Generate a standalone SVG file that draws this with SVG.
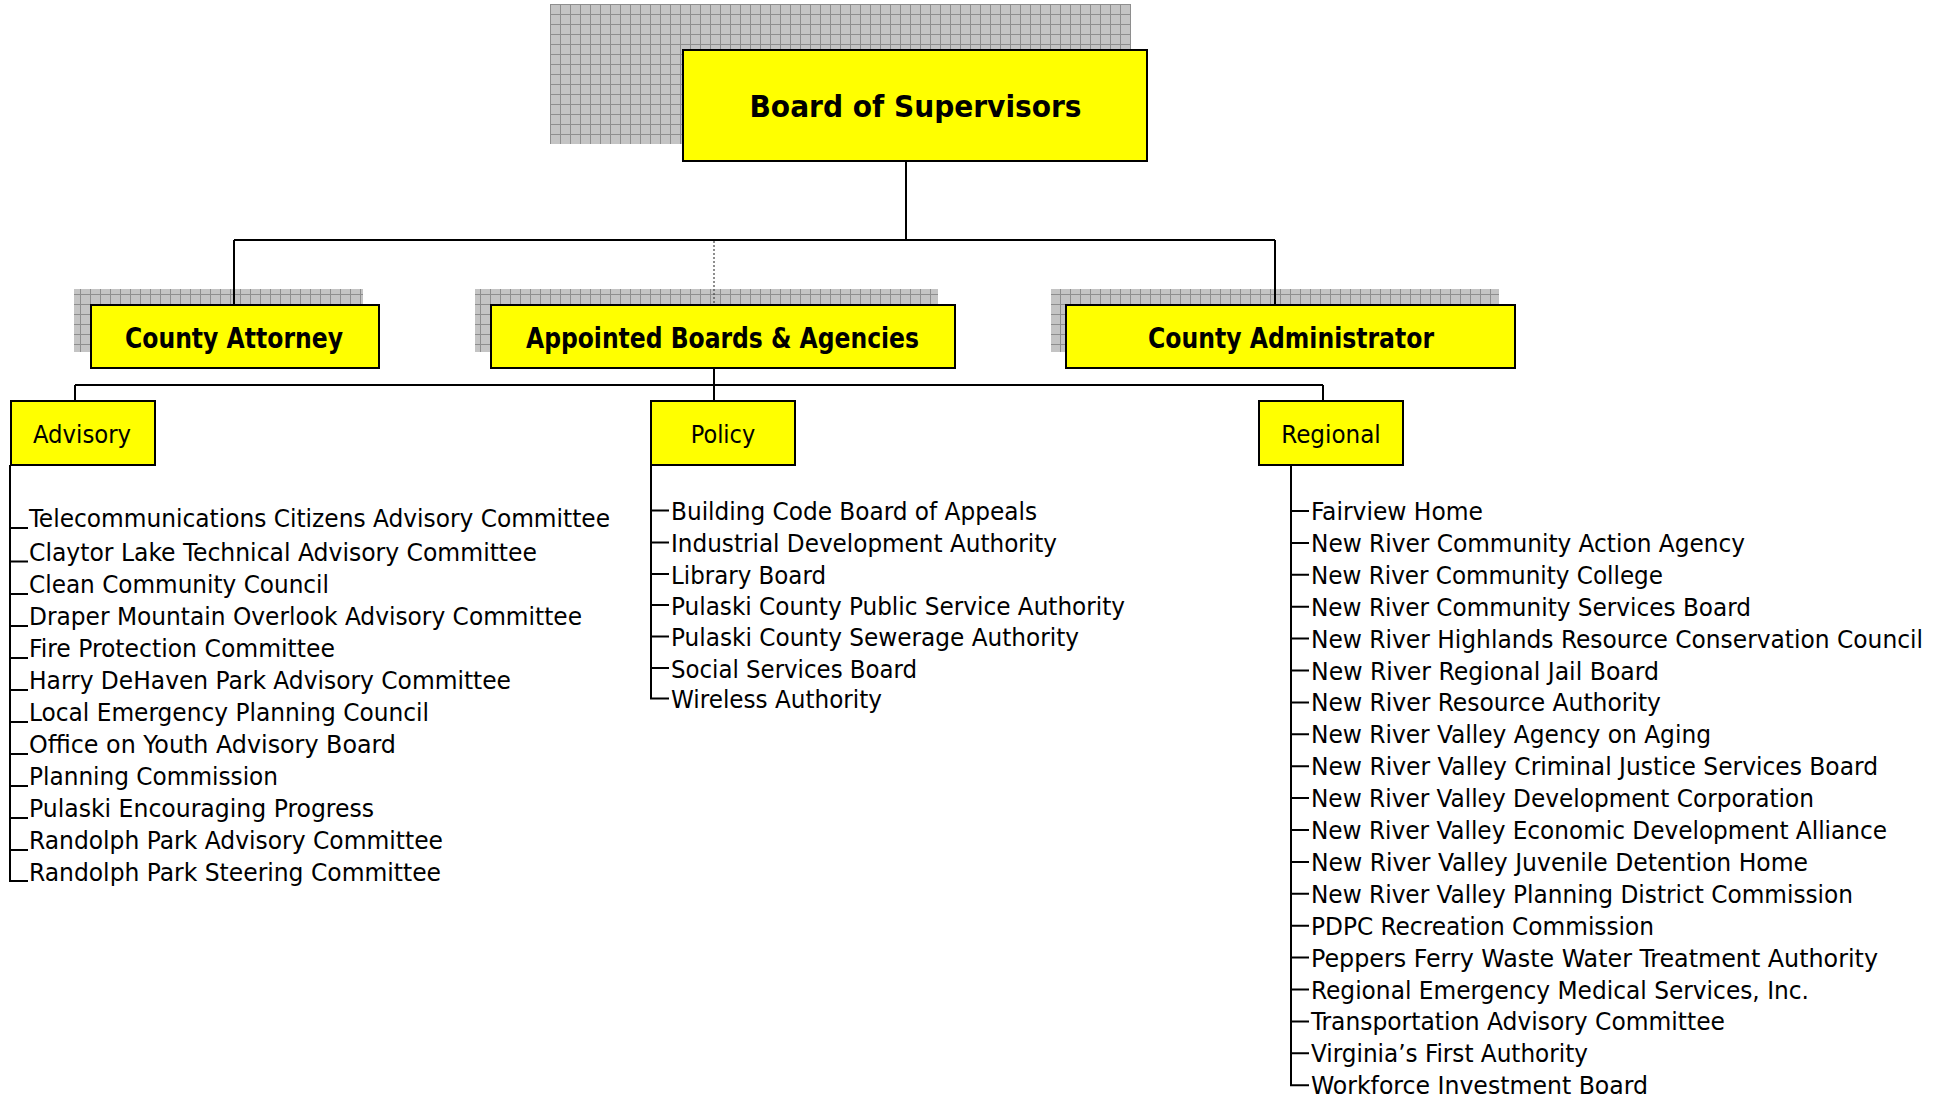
<svg xmlns="http://www.w3.org/2000/svg" width="1944" height="1101" viewBox="0 0 1944 1101">
<style>
.box{fill:#ffff00;stroke:#000;stroke-width:2}
.shadow{fill:url(#grid)}
.ln{stroke:#000;stroke-width:2;fill:none}
.dot{stroke:#444;stroke-width:1.2;stroke-dasharray:2 2;fill:none}
.t{font-family:'DejaVu Sans Condensed','DejaVu Sans',sans-serif;font-size:25px;fill:#000}
.h{font-family:'DejaVu Sans Condensed','DejaVu Sans',sans-serif;font-weight:bold;font-size:28px;fill:#000;text-anchor:middle}
.ti{font-size:31px}
.c{text-anchor:middle}
</style>
<defs>
<pattern id="grid" x="0" y="4" width="10" height="10" patternUnits="userSpaceOnUse">
<rect width="10" height="10" fill="#c4c4c4"/>
<path d="M0 0.5H10M0.5 0V10" stroke="#8e8e8e" stroke-width="1"/>
</pattern>
</defs>
<g id="shadows">
<rect class="shadow" x="550" y="4" width="581" height="140"/>
<rect class="shadow" x="74" y="289" width="289" height="63"/>
<rect class="shadow" x="475" y="289" width="463" height="63"/>
<rect class="shadow" x="1051" y="289" width="448" height="63"/>
</g>
<g id="connectors">
<path class="ln" d="M906 161V240M234 240H1275M234 240V305M1275 240V305"/>
<path class="dot" d="M714 241V305"/>
<path class="ln" d="M714 368V401M75 385H1323M75 385V401M1323 385V401"/>
<path class="ln" d="M10 465V881H28M10 528H28M10 561.5H28M10 594H28M10 626H28M10 658H28M10 690H28M10 722H28M10 754H28M10 786H28M10 818H28M10 850H28"/>
<path class="ln" d="M651 465V698.5H669M651 510.5H669M651 542.5H669M651 574H669M651 605H669M651 636.5H669M651 668H669"/>
<path class="ln" d="M1291 465V1085.2H1309M1291 511H1309M1291 542.9H1309M1291 574.8H1309M1291 606.7H1309M1291 638.6H1309M1291 670.5H1309M1291 702.4H1309M1291 734.3H1309M1291 766.2H1309M1291 798.1H1309M1291 830H1309M1291 861.9H1309M1291 893.8H1309M1291 925.7H1309M1291 957.6H1309M1291 989.5H1309M1291 1021.4H1309M1291 1053.3H1309"/>
</g>
<g id="board">
<rect class="box" x="683" y="50" width="464" height="111"/>
<text class="h ti" x="915.5" y="117" textLength="332" lengthAdjust="spacingAndGlyphs">Board of Supervisors</text>
</g>
<g id="county-attorney">
<rect class="box" x="91" y="305" width="288" height="63"/>
<text class="h" x="234" y="348" textLength="218" lengthAdjust="spacingAndGlyphs">County Attorney</text>
</g>
<g id="appointed">
<rect class="box" x="491" y="305" width="464" height="63"/>
<text class="h" x="722.5" y="348" textLength="393" lengthAdjust="spacingAndGlyphs">Appointed Boards &amp; Agencies</text>
</g>
<g id="county-administrator">
<rect class="box" x="1066" y="305" width="449" height="63"/>
<text class="h" x="1291" y="348" textLength="286" lengthAdjust="spacingAndGlyphs">County Administrator</text>
</g>
<g id="advisory">
<rect class="box" x="11" y="401" width="144" height="64"/>
<text class="t c" x="82" y="443" textLength="98" lengthAdjust="spacingAndGlyphs">Advisory</text>
</g>
<g id="policy">
<rect class="box" x="651" y="401" width="144" height="64"/>
<text class="t c" x="723" y="443" textLength="64.5" lengthAdjust="spacingAndGlyphs">Policy</text>
</g>
<g id="regional">
<rect class="box" x="1259" y="401" width="144" height="64"/>
<text class="t c" x="1331" y="443" textLength="99.5" lengthAdjust="spacingAndGlyphs">Regional</text>
</g>
<g id="advisory-list" class="t">
<text x="29" y="527" textLength="581" lengthAdjust="spacingAndGlyphs">Telecommunications Citizens Advisory Committee</text>
<text x="29" y="560.5" textLength="508" lengthAdjust="spacingAndGlyphs">Claytor Lake Technical Advisory Committee</text>
<text x="29" y="593" textLength="300" lengthAdjust="spacingAndGlyphs">Clean Community Council</text>
<text x="29" y="625" textLength="553" lengthAdjust="spacingAndGlyphs">Draper Mountain Overlook Advisory Committee</text>
<text x="29" y="657" textLength="306" lengthAdjust="spacingAndGlyphs">Fire Protection Committee</text>
<text x="29" y="689" textLength="482" lengthAdjust="spacingAndGlyphs">Harry DeHaven Park Advisory Committee</text>
<text x="29" y="721" textLength="400" lengthAdjust="spacingAndGlyphs">Local Emergency Planning Council</text>
<text x="29" y="753" textLength="367" lengthAdjust="spacingAndGlyphs">Office on Youth Advisory Board</text>
<text x="29" y="785" textLength="249" lengthAdjust="spacingAndGlyphs">Planning Commission</text>
<text x="29" y="817" textLength="345" lengthAdjust="spacingAndGlyphs">Pulaski Encouraging Progress</text>
<text x="29" y="849" textLength="414" lengthAdjust="spacingAndGlyphs">Randolph Park Advisory Committee</text>
<text x="29" y="881" textLength="412" lengthAdjust="spacingAndGlyphs">Randolph Park Steering Committee</text>
</g>
<g id="policy-list" class="t">
<text x="671" y="520" textLength="366" lengthAdjust="spacingAndGlyphs">Building Code Board of Appeals</text>
<text x="671" y="552" textLength="386" lengthAdjust="spacingAndGlyphs">Industrial Development Authority</text>
<text x="671" y="583.5" textLength="155" lengthAdjust="spacingAndGlyphs">Library Board</text>
<text x="671" y="614.5" textLength="454" lengthAdjust="spacingAndGlyphs">Pulaski County Public Service Authority</text>
<text x="671" y="646" textLength="408" lengthAdjust="spacingAndGlyphs">Pulaski County Sewerage Authority</text>
<text x="671" y="677.5" textLength="246" lengthAdjust="spacingAndGlyphs">Social Services Board</text>
<text x="671" y="708" textLength="211" lengthAdjust="spacingAndGlyphs">Wireless Authority</text>
</g>
<g id="regional-list" class="t">
<text x="1311" y="520" textLength="172" lengthAdjust="spacingAndGlyphs">Fairview Home</text>
<text x="1311" y="551.9" textLength="434" lengthAdjust="spacingAndGlyphs">New River Community Action Agency</text>
<text x="1311" y="583.8" textLength="352" lengthAdjust="spacingAndGlyphs">New River Community College</text>
<text x="1311" y="615.7" textLength="440" lengthAdjust="spacingAndGlyphs">New River Community Services Board</text>
<text x="1311" y="647.6" textLength="612" lengthAdjust="spacingAndGlyphs">New River Highlands Resource Conservation Council</text>
<text x="1311" y="679.5" textLength="348" lengthAdjust="spacingAndGlyphs">New River Regional Jail Board</text>
<text x="1311" y="711.4" textLength="350" lengthAdjust="spacingAndGlyphs">New River Resource Authority</text>
<text x="1311" y="743.3" textLength="400" lengthAdjust="spacingAndGlyphs">New River Valley Agency on Aging</text>
<text x="1311" y="775.2" textLength="567" lengthAdjust="spacingAndGlyphs">New River Valley Criminal Justice Services Board</text>
<text x="1311" y="807.1" textLength="503" lengthAdjust="spacingAndGlyphs">New River Valley Development Corporation</text>
<text x="1311" y="839" textLength="576" lengthAdjust="spacingAndGlyphs">New River Valley Economic Development Alliance</text>
<text x="1311" y="870.9" textLength="497" lengthAdjust="spacingAndGlyphs">New River Valley Juvenile Detention Home</text>
<text x="1311" y="902.8" textLength="542" lengthAdjust="spacingAndGlyphs">New River Valley Planning District Commission</text>
<text x="1311" y="934.7" textLength="343" lengthAdjust="spacingAndGlyphs">PDPC Recreation Commission</text>
<text x="1311" y="966.6" textLength="567" lengthAdjust="spacingAndGlyphs">Peppers Ferry Waste Water Treatment Authority</text>
<text x="1311" y="998.5" textLength="498" lengthAdjust="spacingAndGlyphs">Regional Emergency Medical Services, Inc.</text>
<text x="1311" y="1030.4" textLength="414" lengthAdjust="spacingAndGlyphs">Transportation Advisory Committee</text>
<text x="1311" y="1062.3" textLength="277" lengthAdjust="spacingAndGlyphs">Virginia’s First Authority</text>
<text x="1311" y="1094.2" textLength="337" lengthAdjust="spacingAndGlyphs">Workforce Investment Board</text>
</g>
</svg>
